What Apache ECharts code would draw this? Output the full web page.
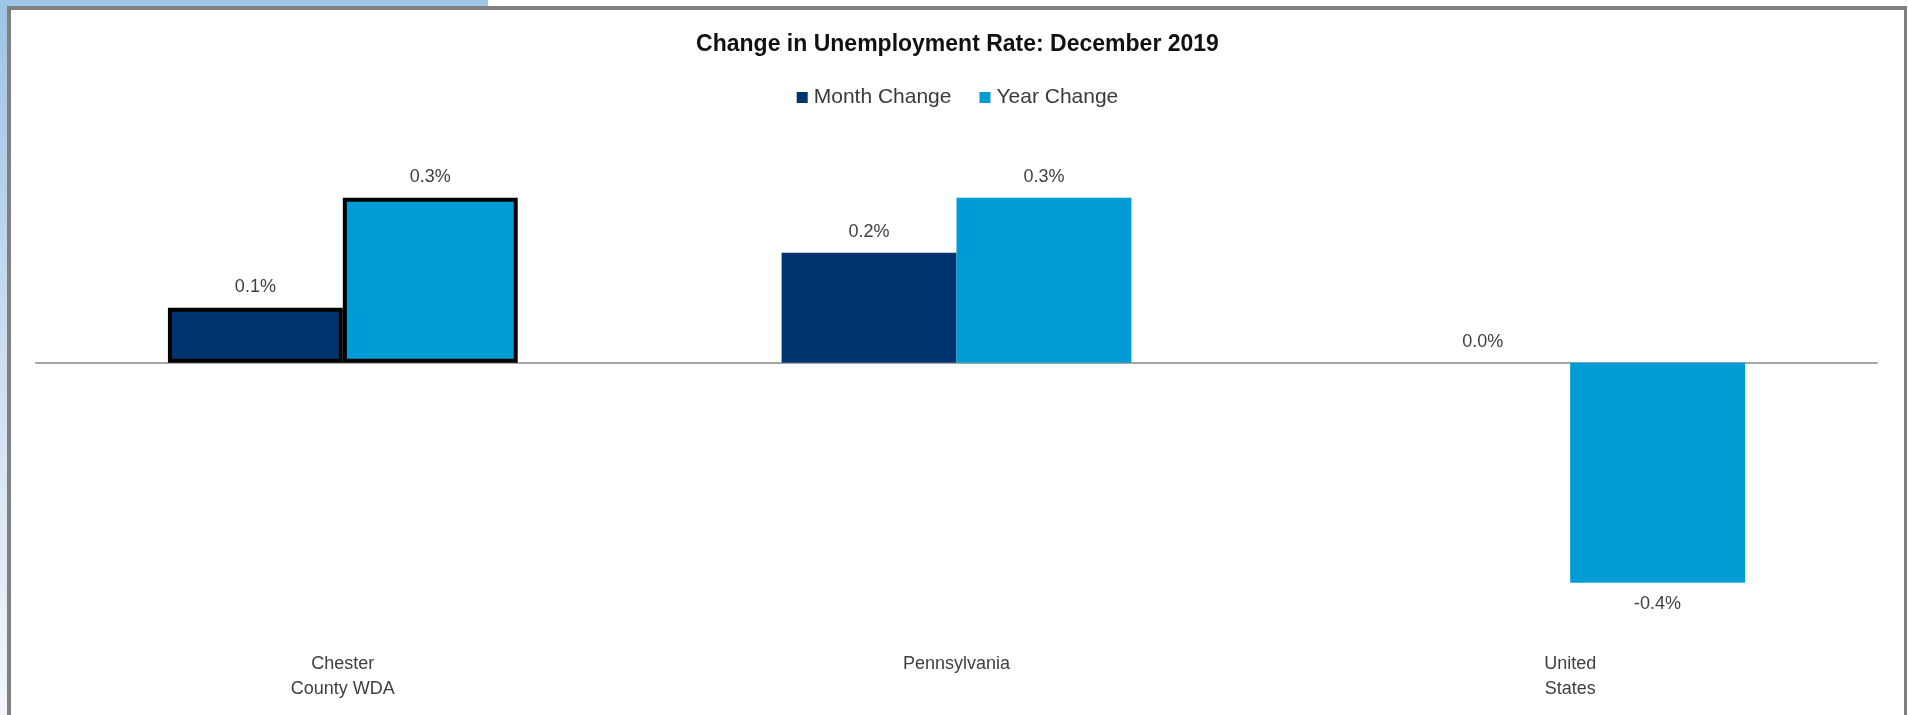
<!DOCTYPE html>
<html>
<head>
<meta charset="utf-8">
<title>Change in Unemployment Rate: December 2019</title>
<script src="https://cdn.jsdelivr.net/npm/echarts@6/dist/echarts.min.js"></script>
<style>
  html, body { margin: 0; padding: 0; width: 1908px; height: 715px; overflow: hidden; background: #ffffff; }
  #sideBand { position: absolute; left: 0; top: 0; width: 7px; height: 715px;
              background: linear-gradient(to bottom, #9dc3e6 0%, #c9dcef 45%, #f2f6fb 100%); }
  #topBand { position: absolute; left: 0; top: 0; width: 488px; height: 6px; background: #9fc5e8; }
  #frame { position: absolute; left: 7px; top: 6px; width: 1893px; height: 709px;
           border-left: 4px solid #808080; border-top: 4px solid #808080; border-right: 3px solid #808080;
           background: #ffffff; }
  #chart { width: 1893px; height: 705px; }
</style>
</head>
<body>
<div id="sideBand"></div>
<div id="topBand"></div>
<div id="frame"><div id="chart"></div></div>
<script>
// Unemployment rate change, percentage points
const categories = ['Chester\nCounty WDA', 'Pennsylvania', 'United\nStates'];
const monthChange = [0.1, 0.2, 0.0];
const yearChange = [0.3, 0.3, -0.4];
const seriesNames = ['Month Change', 'Year Change'];
const outlinedCategory = 'Chester\nCounty WDA';

const labelFont = { fontFamily: '"Liberation Sans", Arial, sans-serif', fontSize: 18, color: '#404040' };

function buildItems(values) {
  return values.map((v, i) => {
    const item = {
      value: v,
      label: { position: v < 0 ? 'bottom' : 'top' }
    };
    if (categories[i] === outlinedCategory) {
      item.itemStyle = { borderColor: '#000000', borderWidth: 4 };
    }
    return item;
  });
}

const chart = echarts.init(document.getElementById('chart'), null, { renderer: 'canvas' });

chart.setOption({
  animation: false,
  title: {
    text: 'Change in Unemployment Rate: December 2019',
    left: 'center',
    top: 18,
    textStyle: { fontFamily: '"Liberation Sans", Arial, sans-serif', fontSize: 23, fontWeight: 'bold', color: '#111111' }
  },
  legend: {
    data: seriesNames,
    top: 72,
    left: 'center',
    icon: 'rect',
    itemWidth: 11,
    itemHeight: 11,
    itemGap: 28,
    textStyle: { fontFamily: '"Liberation Sans", Arial, sans-serif', fontSize: 21, color: '#3a3a3a', padding: [0, 0, 0, 1] }
  },
  grid: { left: 25, right: 27, top: 132.7, bottom: 77.3, containLabel: false },
  xAxis: [
    {
      type: 'category',
      data: categories,
      position: 'bottom',
      axisLine: { show: false, onZero: false },
      axisTick: { show: false },
      axisLabel: {
        margin: 14,
        lineHeight: 25,
        fontFamily: '"Liberation Sans", Arial, sans-serif',
        fontSize: 18,
        color: '#404040'
      }
    },
    {
      type: 'category',
      data: categories,
      position: 'bottom',
      axisLine: { show: true, onZero: true, lineStyle: { color: '#a6a6a6', width: 2 } },
      axisTick: { show: false },
      axisLabel: { show: false }
    }
  ],
  yAxis: {
    type: 'value',
    min: -0.5,
    max: 0.4,
    interval: 0.1,
    show: false,
    splitLine: { show: false }
  },
  series: [
    {
      name: seriesNames[0],
      type: 'bar',
      xAxisIndex: 0,
      data: buildItems(monthChange),
      barGap: '0%',
      barCategoryGap: '43%',
      itemStyle: { color: '#00346e' },
      label: {
        show: true,
        distance: 12,
        formatter: p => p.value.toFixed(1) + '%',
        ...labelFont
      }
    },
    {
      name: seriesNames[1],
      type: 'bar',
      xAxisIndex: 0,
      data: buildItems(yearChange),
      barGap: '0%',
      barCategoryGap: '43%',
      itemStyle: { color: '#009cd6' },
      label: {
        show: true,
        distance: 12,
        formatter: p => p.value.toFixed(1) + '%',
        ...labelFont
      }
    }
  ]
});
</script>
</body>
</html>
